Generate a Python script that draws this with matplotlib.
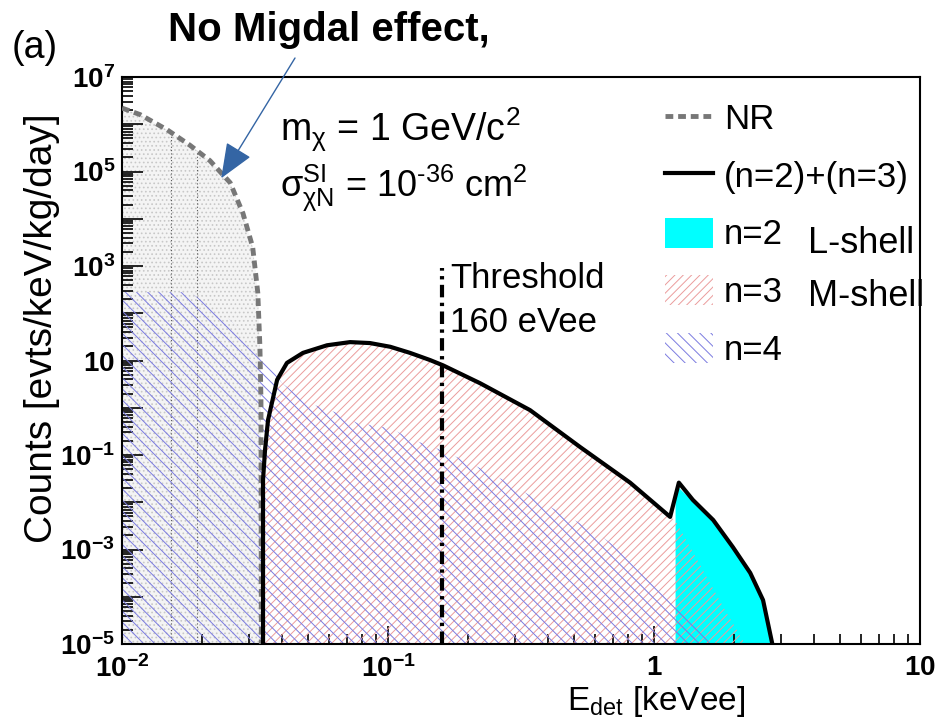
import numpy as np
import matplotlib
matplotlib.use('Agg')
import matplotlib.pyplot as plt
from matplotlib.lines import Line2D
from matplotlib.patches import Patch
from matplotlib.ticker import FixedLocator, FuncFormatter, LogLocator, NullFormatter

plt.rcParams['font.family'] = ['Liberation Sans', 'DejaVu Sans']
plt.rcParams['mathtext.fontset'] = 'custom'
plt.rcParams['mathtext.rm'] = 'Liberation Sans'
plt.rcParams['mathtext.it'] = 'Liberation Sans:italic'
plt.rcParams['mathtext.bf'] = 'Liberation Sans:bold'
plt.rcParams['hatch.linewidth'] = 0.7

### data (E_det in keVee, rate in evts/keV/kg/day)

# nuclear recoil (no Migdal)
nr_e = [0.0100, 0.0117, 0.0148, 0.0180, 0.0214, 0.0255, 0.0285, 0.0310,
        0.0324, 0.0330, 0.0333, 0.0334]
nr_rate = [2.2e6, 1.6e6, 7.6e5, 3.6e5, 1.7e5, 5.8e4, 1.3e4, 2.5e3,
           270, 19.5, 1.45, 1e-5]

# n=2 (L-shell)
n2_e = [1.20, 1.22, 1.40, 1.67, 1.98, 2.30, 2.57, 2.78]
n2_rate = [0.0125, 0.022, 0.0105, 0.0040, 0.0011, 3.1e-4, 8.5e-5, 1e-5]

# n=3 (M-shell)
n3_e = [0.0339, 0.0339, 0.0345, 0.0354, 0.0366, 0.0383, 0.0417, 0.0479,
        0.059, 0.072, 0.0855, 0.102, 0.121, 0.144, 0.161, 0.222, 0.342,
        0.527, 0.813, 1.15, 1.20, 1.49, 1.85, 2.20]
n3_rate = [1e-5, 0.030, 0.13, 0.55, 1.26, 3.9, 8.9, 14.5,
           21, 24.5, 23.4, 19.5, 14.5, 10.2, 7.9, 3.3, 0.89,
           0.148, 0.026, 0.0049, 0.0042, 4.7e-4, 5.2e-5, 1e-5]

# n=4
n4_e = [0.0100, 0.0180, 0.0255, 0.0330, 0.0400, 0.0495, 0.0643, 0.0764,
        0.102, 0.124, 0.157, 0.203, 0.270, 0.396, 0.527, 0.611, 0.813,
        0.991, 1.18, 1.40, 1.63]
n4_rate = [280, 280, 72, 15, 3.3, 1.3, 0.78, 0.48,
           0.37, 0.21, 0.13, 0.068, 0.030, 0.0087, 0.0036, 0.0022, 6.9e-4,
           2.6e-4, 9.8e-5, 3.7e-5, 1e-5]

# (n=2)+(n=3)
tot_e = [0.0339, 0.0339, 0.0345, 0.0354, 0.0366, 0.0383, 0.0417, 0.0479,
         0.059, 0.072, 0.0855, 0.102, 0.121, 0.144, 0.161, 0.222, 0.342,
         0.527, 0.813, 1.15, 1.24, 1.40, 1.67, 1.98, 2.30, 2.57, 2.78]
tot_rate = [1e-5, 0.030, 0.13, 0.55, 1.26, 3.9, 8.9, 14.5,
            21, 24.5, 23.4, 19.5, 14.5, 10.2, 7.9, 3.3, 0.89,
            0.148, 0.026, 0.0049, 0.026, 0.0112, 0.0042, 0.00112, 3.2e-4, 8.5e-5, 1.05e-5]

threshold_e = 0.16
threshold_top = 900
nr_grid_e = [0.0153, 0.0191]

xticks = [0.01, 0.1, 1, 10]
xtick_labels = [r'$\mathbf{10^{-2}}$', r'$\mathbf{10^{-1}}$', r'$\mathbf{1}$', r'$\mathbf{10}$']
y_floor = 1e-5

### figure
fig = plt.figure(figsize=(9.35, 7.21), dpi=100)
ax = fig.add_axes([122 / 935, 1 - 644 / 721, 798 / 935, 567 / 721])
ax.set_xscale('log')
ax.set_yscale('log')
ax.set_xlim(0.01, 10)
ax.set_ylim(1e-5, 1e7)

nr_fill = ax.fill_between(nr_e, nr_rate, y_floor, facecolor='#f4f4f4', edgecolor='#c8c8c8',
                          hatch='....', lw=0, zorder=1)
for e in nr_grid_e:
    ln = ax.axvline(e, color='#555555', lw=0.8, ls=(0, (1, 2)), zorder=1.2)
    ln.set_clip_path(nr_fill.get_paths()[0], ax.transData)

red = '#eb9c9c'
blue = '#7b7be0'
ax.fill_between(n2_e, n2_rate, y_floor, color='#00ffff', lw=0, zorder=1.5)
ax.fill_between(n3_e, n3_rate, y_floor, facecolor='none', edgecolor=red,
                hatch='////', lw=0, zorder=2)
ax.fill_between(n4_e, n4_rate, y_floor, facecolor='none', edgecolor=blue,
                hatch='\\\\\\', lw=0, zorder=2.1)

ax.plot(nr_e, nr_rate, color='#777777', lw=3.5, ls=(0, (1.6, 1.0)), zorder=4)
ax.plot(tot_e, tot_rate, color='black', lw=3, zorder=5)
ax.plot([threshold_e, threshold_e], [y_floor, threshold_top], color='black', lw=3,
        ls=(0, (3, 1.3, 0.8, 1.3)), zorder=5)

# axes style (ROOT-like)
for s in ax.spines.values():
    s.set_linewidth(1.5)
ax.yaxis.set_major_locator(FixedLocator([10.0 ** k for k in range(-5, 8)]))
ax.yaxis.set_minor_locator(LogLocator(base=10, subs=np.arange(2, 10), numticks=30))


def ylab(v, pos):
    k = int(round(np.log10(v)))
    if k % 2 == 0:
        return ''
    if k == 1:
        return r'$\mathbf{10}$'
    return r'$\mathbf{10^{%d}}$' % k


ax.yaxis.set_major_formatter(FuncFormatter(ylab))
ax.yaxis.set_minor_formatter(NullFormatter())
ax.xaxis.set_major_locator(FixedLocator(xticks))
ax.xaxis.set_major_formatter(FuncFormatter(lambda v, p: xtick_labels[xticks.index(v)] if v in xticks else ''))
ax.xaxis.set_minor_locator(LogLocator(base=10, subs=np.arange(2, 10), numticks=30))
ax.xaxis.set_minor_formatter(NullFormatter())
ax.tick_params(which='both', direction='in', top=False, right=False, width=1.2, labelsize=20)
ax.tick_params(axis='y', which='major', length=15, pad=5)
ax.tick_params(axis='y', which='minor', length=8)
ax.tick_params(axis='x', which='major', length=13, pad=8)
ax.tick_params(axis='x', which='minor', length=7)

ax.set_xlabel(r'$\mathrm{E_{det}}$ [keVee]', fontsize=24, va='top')
ax.xaxis.set_label_coords(0.669, -0.071)
ax.set_ylabel('Counts [evts/keV/kg/day]', fontsize=28, va='center')
ax.yaxis.set_label_coords(-0.1, 0.557)

# labels in the plot
ax.text(0.198, 0.907, r'm$_{\mathrm{\chi}}$ = 1 GeV/c$^{2}$', transform=ax.transAxes,
        fontsize=27, va='center')
ax.text(0.198, 0.805, '$\\mathrm{\\sigma^{SI}_{\\chi N}}$ = 10$^{\u201036}$ cm$^{2}$',
        transform=ax.transAxes, fontsize=26, va='center')
ax.text(0.411, 0.674, 'Threshold\n160 eVee', transform=ax.transAxes, fontsize=25,
        va='top', linespacing=1.42)

handles = [
    Line2D([], [], color='#777777', lw=3.5, ls=(0, (1.6, 1.0))),
    Line2D([], [], color='black', lw=3),
    Patch(facecolor='#00ffff', edgecolor='#00ffff', lw=0),
    Patch(facecolor='white', edgecolor=red, hatch='////', lw=0),
    Patch(facecolor='white', edgecolor=blue, hatch='\\\\\\', lw=0),
]
labels = ['NR', '(n=2)+(n=3)', 'n=2', 'n=3', 'n=4']
ax.legend(handles, labels, loc='upper left', bbox_to_anchor=(0.68, 0.955), frameon=False,
          fontsize=25, handlelength=1.4, handleheight=0.95, handletextpad=0.3,
          labelspacing=0.68, borderpad=0, borderaxespad=0)

fig.text(808 / 935, 1 - 243 / 721, 'L-shell', fontsize=26, va='center')
fig.text(808 / 935, 1 - 297 / 721, 'M-shell', fontsize=26, va='center')
fig.text(12 / 935, 1 - 48 / 721, '(a)', fontsize=27, va='center')
fig.text(329 / 935, 1 - 30 / 721, 'No Migdal effect,', fontsize=29, fontweight='bold',
         ha='center', va='center')
ax.annotate('', xy=(0.0236, 7.2e4), xycoords='data',
            xytext=(295 / 935, 1 - 58 / 721), textcoords='figure fraction',
            arrowprops=dict(arrowstyle='-|>,head_length=1.1,head_width=0.45', color='#3465a4',
                            lw=1, mutation_scale=20, shrinkA=0, shrinkB=0), zorder=6)

fig.savefig('out.png', dpi=100)
